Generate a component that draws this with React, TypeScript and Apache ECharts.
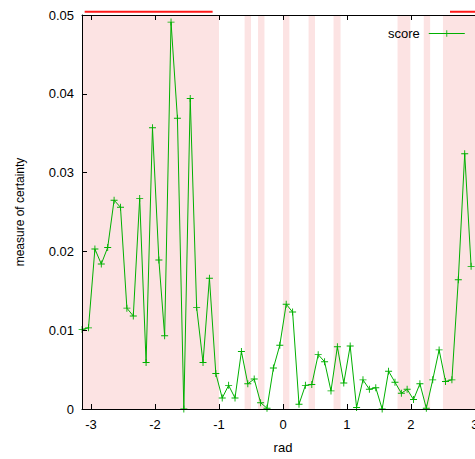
import React, { useEffect, useRef } from "react";
import * as echarts from "echarts";

const xValues = [
  -3.14, -3.04, -2.94, -2.84, -2.74, -2.64, -2.54, -2.44, -2.34, -2.24,
  -2.14, -2.04, -1.94, -1.85, -1.75, -1.65, -1.55, -1.45, -1.35, -1.25,
  -1.15, -1.05, -0.95, -0.85, -0.75, -0.65, -0.55, -0.45, -0.35, -0.25,
  -0.15, -0.05, 0.05, 0.15, 0.25, 0.35, 0.45, 0.55, 0.65, 0.75,
  0.85, 0.95, 1.05, 1.15, 1.25, 1.35, 1.45, 1.55, 1.65, 1.75,
  1.85, 1.94, 2.04, 2.14, 2.24, 2.34, 2.44, 2.54, 2.64, 2.74,
  2.84, 2.94,
];

const scoreValues = [
  0.0101, 0.0103, 0.0203, 0.0184, 0.0205, 0.0265, 0.0256, 0.0128, 0.0118, 0.0267,
  0.0059, 0.0357, 0.0189, 0.0093, 0.0491, 0.0369, 0, 0.0394, 0.0129, 0.0059,
  0.0166, 0.0045, 0.0014, 0.003, 0.0014, 0.0073, 0.0032, 0.0038, 0.0008, 0.0001,
  0.0052, 0.0081, 0.0133, 0.0123, 0.0006, 0.003, 0.0031, 0.0069, 0.006, 0.0023,
  0.0079, 0.0033, 0.008, 0.0002, 0.0037, 0.0025, 0.0027, 0, 0.0048, 0.0034,
  0.002, 0.0025, 0.0012, 0.0032, 0.0001, 0.0037, 0.0075, 0.0035, 0.0037, 0.0164,
  0.0324, 0.0181,
];

const pinkBands: [number, number][] = [
  [-3.1416, -1.0],
  [-0.6, -0.5],
  [-0.39, -0.29],
  [0.0, 0.1],
  [0.4, 0.5],
  [0.79, 0.9],
  [1.79, 1.99],
  [2.2, 2.3],
  [2.5, 3.1416],
];

const redSegments: [number, number][] = [
  [-3.1, -1.1],
  [2.61, 3.1416],
];
const redLevel = 0.0504;

const xTicks = [-3, -2, -1, 0, 1, 2, 3];
const yTicks = [0, 0.01, 0.02, 0.03, 0.04, 0.05];

const FONT = "Liberation Sans, Arial, sans-serif";
const GREEN = "#00b000";
const PLUS = "path://M-1,-0.13H1V0.13H-1Z M-0.13,-1H0.13V1H-0.13Z";

export default function App() {
  const ref = useRef<HTMLDivElement>(null);
  useEffect(() => {
    if (!ref.current) return;
    const chart = echarts.init(ref.current, undefined, { renderer: "svg" });
    const scoreData = xValues.map((x, i) => [x, scoreValues[i]]);
    const redData: any[] = [];
    redSegments.forEach(([a, b], i) => {
      if (i > 0) redData.push(["-", "-"]);
      redData.push([a, redLevel], [b, redLevel]);
    });
    chart.setOption({
      animation: false,
      backgroundColor: "#fff",
      textStyle: { fontFamily: FONT },
      grid: { left: 82, top: 15, width: 402, height: 397, show: false },
      legend: {
        left: 383,
        top: 22,
        align: "right",
        itemWidth: 36,
        itemHeight: 8,
        lineStyle: { width: 1 },
        textStyle: { fontFamily: FONT, fontSize: 13, color: "#000", padding: [0, 4, 0, 0] },
        data: ["score"],
      },
      xAxis: [
        {
          type: "value",
          min: -Math.PI,
          max: Math.PI,
          z: 10,
          name: "rad",
          nameLocation: "middle",
          nameGap: 32,
          nameTextStyle: { fontFamily: FONT, fontSize: 13, color: "#000" },
          axisLine: { show: true, onZero: false, lineStyle: { color: "#000", width: 1 } },
          axisTick: { show: true, inside: true, length: 5, customValues: xTicks, lineStyle: { color: "#000" } },
          axisLabel: { customValues: xTicks, fontFamily: FONT, fontSize: 13, color: "#000", margin: 9 },
          splitLine: { show: false },
        },
        {
          type: "value",
          position: "top",
          min: -Math.PI,
          max: Math.PI,
          z: 10,
          axisLine: { show: true, onZero: false, lineStyle: { color: "#000", width: 1 } },
          axisTick: { show: true, inside: true, length: 5, customValues: xTicks, lineStyle: { color: "#000" } },
          axisLabel: { show: false },
          splitLine: { show: false },
        },
      ],
      yAxis: {
        type: "value",
        min: 0,
        max: 0.05,
        interval: 0.01,
        z: 10,
        name: "measure of certainty",
        nameLocation: "middle",
        nameGap: 56,
        nameRotate: 90,
        nameTextStyle: { fontFamily: FONT, fontSize: 12, color: "#000" },
        axisLine: { show: true, onZero: false, lineStyle: { color: "#000", width: 1 } },
        axisTick: { show: true, inside: true, length: 5, lineStyle: { color: "#000" } },
        axisLabel: {
          fontFamily: FONT,
          fontSize: 13,
          color: "#000",
          margin: 8,
          formatter: (v: number) => (yTicks.some((t) => Math.abs(t - v) < 1e-9) ? String(+v.toFixed(2)) : ""),
        },
        splitLine: { show: false },
      },
      series: [
        {
          name: "bands",
          type: "line",
          data: [],
          z: 1,
          silent: true,
          markArea: {
            silent: true,
            itemStyle: { color: "#fce3e3" },
            data: pinkBands.map(([a, b]) => [{ xAxis: a }, { xAxis: b }]),
          },
        },
        {
          name: "truth",
          type: "line",
          data: redData,
          z: 4,
          clip: false,
          connectNulls: false,
          showSymbol: false,
          symbol: "none",
          silent: true,
          lineStyle: { color: "#ff1a1a", width: 2 },
        },
        {
          name: "score",
          type: "line",
          data: scoreData,
          z: 5,
          symbol: PLUS,
          symbolSize: 7,
          showSymbol: true,
          itemStyle: { color: GREEN },
          lineStyle: { color: GREEN, width: 1 },
        },
      ],
    });
    return () => chart.dispose();
  }, []);
  return (
    <div style={{ position: "absolute", left: 0, top: 0, width: 475, height: 459, overflow: "hidden" }}>
      <div ref={ref} style={{ width: 500, height: 459 }} />
    </div>
  );
}
